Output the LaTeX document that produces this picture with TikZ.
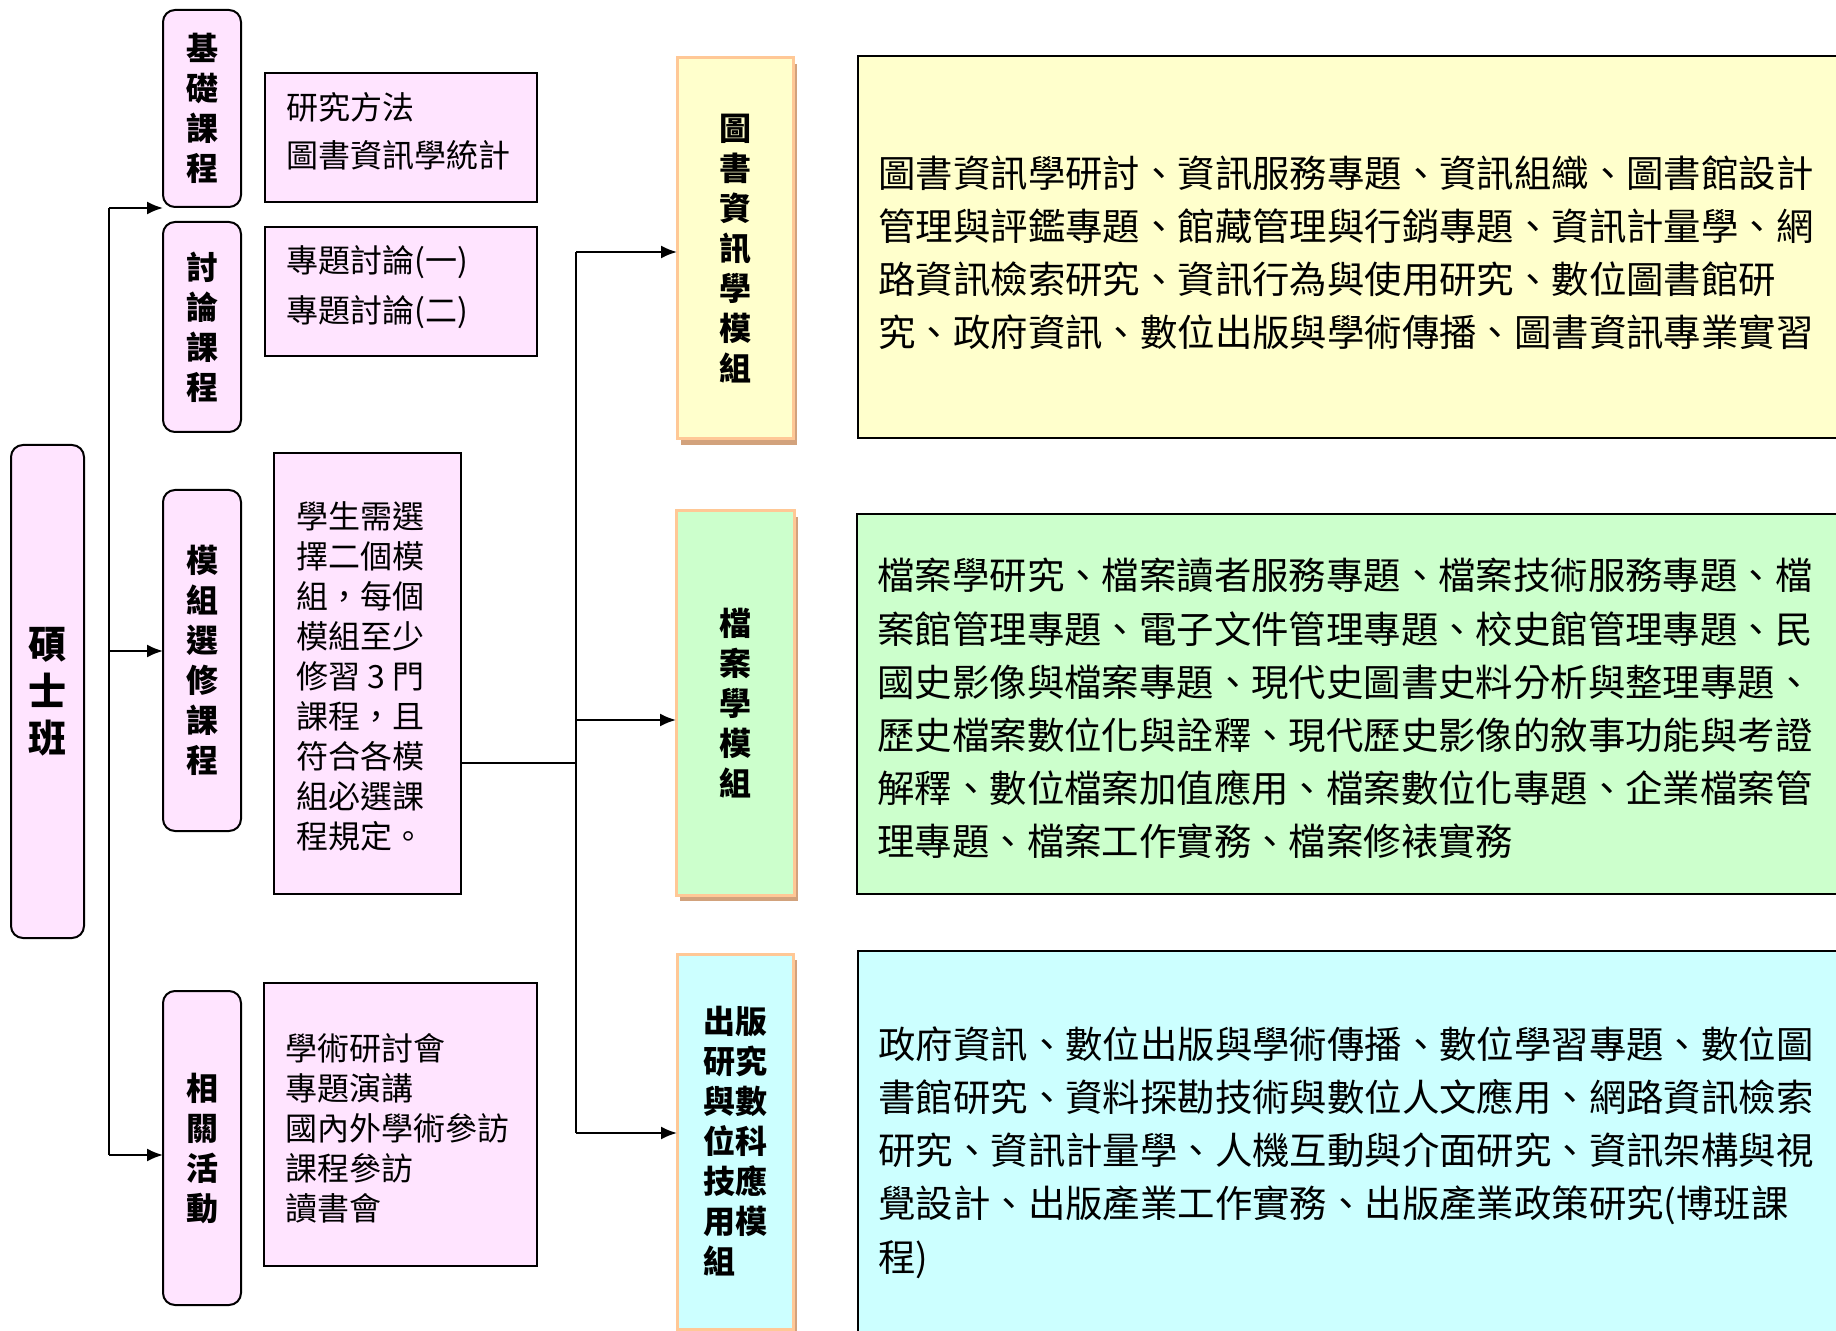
\documentclass[tikz,border=0pt]{standalone}
\usepackage{fontspec}
\setmainfont{Noto Sans CJK TC}
\usetikzlibrary{arrows.meta,shadows,positioning}

\newdimen\pxu \pxu=0.5pt
\definecolor{pinkfill}{HTML}{FFE4FF}
\definecolor{libyellow}{HTML}{FFFFCC}
\definecolor{archgreen}{HTML}{CCFFCC}
\definecolor{pubcyan}{HTML}{CCFFFF}
\definecolor{peach}{HTML}{FFC896}
\definecolor{shadowtan}{HTML}{D2A27C}

\begin{document}
\begin{tikzpicture}[x=0.5pt, y=-0.5pt,
		catbox/.style={rectangle, rounded corners=6pt, draw, line width=1pt, fill=pinkfill, align=center,
				anchor=north west, outer sep=0pt, inner sep=0pt, font=\fontsize{16}{20}\selectfont\bfseries},
		listbox/.style={rectangle, draw, line width=1pt, fill=pinkfill, anchor=north west, outer sep=0pt},
		listtext/.style={anchor=west, align=left, inner sep=0pt, font=\fontsize{16}{20}\selectfont},
		modbox/.style={rectangle, draw=peach, line width=1.5pt, align=center, anchor=north west, outer sep=0pt,
				inner sep=0pt, font=\fontsize{16}{20}\selectfont\bfseries,
				drop shadow={shadow xshift=2pt, shadow yshift=-3pt, fill=shadowtan, opacity=1}},
		topicbox/.style={rectangle, draw, line width=1pt, anchor=north west, outer sep=0pt, minimum width=1000\pxu},
		topictext/.style={anchor=west, align=left, inner sep=0pt, xshift=20\pxu, font=\fontsize{18.7}{26.6}\selectfont},
		line/.style={draw, line width=1pt, -{Latex[length=8pt,width=6.5pt]}}
	]
	\useasboundingbox (0,0) rectangle (1836,1331);
	\clip (0,0) rectangle (1836,1331);

	\node [catbox, minimum width=73\pxu, minimum height=493\pxu, font=\fontsize{19}{23.5}\selectfont\bfseries] (master) at (11,445) {碩\\士\\班};

	\node [catbox, minimum width=78\pxu, minimum height=197\pxu] (cat1) at (163,10) {基\\礎\\課\\程};
	\node [catbox, minimum width=78\pxu, minimum height=210\pxu] (cat2) at (163,222) {討\\論\\課\\程};
	\node [catbox, minimum width=78\pxu, minimum height=341\pxu] (cat3) at (163,490) {模\\組\\選\\修\\課\\程};
	\node [catbox, minimum width=78\pxu, minimum height=314\pxu] (cat4) at (163,991) {相\\關\\活\\動};

	\node [listbox, minimum width=272\pxu, minimum height=129\pxu] (list1) at (265,73) {};
	\node [listtext, at={(list1.west)}, xshift=21\pxu, yshift=2.9pt, font=\fontsize{16}{24}\selectfont] (list1txt) {研究方法\\圖書資訊學統計};
	\node [listbox, minimum width=272\pxu, minimum height=129\pxu] (list2) at (265,227) {};
	\node [listtext, at={(list2.west)}, xshift=21\pxu, yshift=2.35pt, font=\fontsize{16}{25}\selectfont] (list2txt) {專題討論(一)\\專題討論(二)};
	\node [listbox, minimum width=187\pxu, minimum height=441\pxu] (list3) at (274,453) {};
	\node [listtext, at={(list3.west)}, xshift=22\pxu, yshift=-1.2pt] (list3txt) {學生需選\\擇二個模\\組，每個\\模組至少\\修習 3 門\\課程，且\\符合各模\\組必選課\\程規定。};
	\node [listbox, minimum width=273\pxu, minimum height=283\pxu] (list4) at (264,983) {};
	\node [listtext, at={(list4.west)}, xshift=21\pxu, yshift=-1.75pt] (list4txt) {學術研討會\\專題演講\\國內外學術參訪\\課程參訪\\讀書會};

	\node [modbox, fill=libyellow, minimum width=116\pxu, minimum height=381\pxu] (mod1) at (677,58) {圖\\書\\資\\訊\\學\\模\\組};
	\node [modbox, fill=archgreen, minimum width=118\pxu, minimum height=384\pxu] (mod2) at (676,511) {檔\\案\\學\\模\\組};
	\node [modbox, fill=pubcyan, minimum width=116\pxu, minimum height=375\pxu, align=left] (mod3) at (677,954) {出版\\研究\\與數\\位科\\技應\\用模\\組};

	\node [topicbox, fill=libyellow, minimum height=382\pxu] (topic1) at (858,56) {};
	\node [topictext, at={(topic1.west)}, yshift=-2.9pt] (topic1txt) {圖書資訊學研討、資訊服務專題、資訊組織、圖書館設計\\管理與評鑑專題、館藏管理與行銷專題、資訊計量學、網\\路資訊檢索研究、資訊行為與使用研究、數位圖書館研\\究、政府資訊、數位出版與學術傳播、圖書資訊專業實習};
	\node [topicbox, fill=archgreen, minimum height=380\pxu] (topic2) at (857,514) {};
	\node [topictext, at={(topic2.west)}, yshift=-2.35pt] (topic2txt) {檔案學研究、檔案讀者服務專題、檔案技術服務專題、檔\\案館管理專題、電子文件管理專題、校史館管理專題、民\\國史影像與檔案專題、現代史圖書史料分析與整理專題、\\歷史檔案數位化與詮釋、現代歷史影像的敘事功能與考證\\解釋、數位檔案加值應用、檔案數位化專題、企業檔案管\\理專題、檔案工作實務、檔案修裱實務};
	\node [topicbox, fill=pubcyan, minimum height=396\pxu] (topic3) at (858,951) {};
	\node [topictext, at={(topic3.west)}, yshift=-1.75pt] (topic3txt) {政府資訊、數位出版與學術傳播、數位學習專題、數位圖\\書館研究、資料探勘技術與數位人文應用、網路資訊檢索\\研究、資訊計量學、人機互動與介面研究、資訊架構與視\\覺設計、出版產業工作實務、出版產業政策研究(博班課\\程)};

	\coordinate (a1) at (109,208);
	\coordinate (a2) at (109,651);
	\coordinate (a3) at (109,1155);
	\coordinate (b0) at (576,763);
	\coordinate (b1) at (576,252);
	\coordinate (b2) at (576,720);
	\coordinate (b3) at (576,1133);

	\draw [line width=1pt] (a1) -- (a3);
	\path [line] (a1) -- (cat1.west |- a1);
	\path [line] (a2) -- (cat3.west |- a2);
	\path [line] (a3) -- (cat4.west |- a3);

	\draw [line width=1pt] (list3.east |- b0) -- (b0);
	\draw [line width=1pt] (b1) -- (b3);
	\path [line] (b1) -- (mod1.west |- b1);
	\path [line] (b2) -- (mod2.west |- b2);
	\path [line] (b3) -- (mod3.west |- b3);
\end{tikzpicture}
\end{document}
